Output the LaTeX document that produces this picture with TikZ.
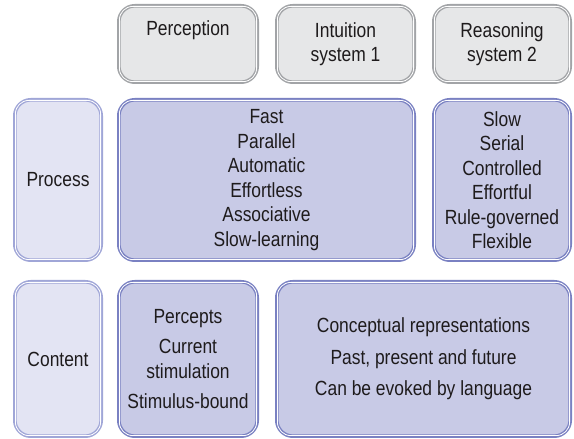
\documentclass[tikz,border=0pt]{standalone}
\usepackage{fontspec}
\setmainfont{Liberation Sans}[FakeStretch=0.85]
\definecolor{txt}{HTML}{1E1B1C}
\definecolor{greyfill}{HTML}{E6E7E8}
\definecolor{greyline}{HTML}{A2A4A7}
\definecolor{labfill}{HTML}{E3E4F3}
\definecolor{labline}{HTML}{A0A6D7}
\definecolor{mainfill}{HTML}{C8CAE6}
\definecolor{mainline}{HTML}{7A81C2}
\begin{document}
\begin{tikzpicture}[x=1pt,y=1pt,
  panel/.style={rectangle, rounded corners=16pt, line width=3.6pt, inner sep=0pt,
    align=center, text=txt, font=\fontsize{20.5}{24.5}\selectfont},
  greybox/.style={panel, fill=greyfill, draw=greyline},
  labelbox/.style={panel, fill=labfill, draw=labline},
  mainbox/.style={panel, fill=mainfill, draw=mainline},
  innerline/.style={draw=white, line width=0.8pt, rounded corners=13.5pt}]
\useasboundingbox (0,0) rectangle (574,439);

% column headings
\node[greybox, minimum width=138.4pt, minimum height=76.4pt] (perc) at (188,395)
  {Perception\\\strut};
\node[greybox, minimum width=137.4pt, minimum height=76.4pt] (sysone) at (345.5,395)
  {Intuition\\system 1};
\node[greybox, minimum width=136.4pt, minimum height=76.4pt] (systwo) at (502,395)
  {Reasoning\\system 2};

% process row
\node[labelbox, minimum width=86.4pt, minimum height=160.4pt] (proc) at (58,259)
  {Process};
\node[mainbox, minimum width=295.4pt, minimum height=160.4pt] (procone) at (266.5,259)
  {Fast\\Parallel\\Automatic\\Effortless\\Associative\\Slow-learning};
\node[mainbox, minimum width=136.4pt, minimum height=160.4pt] (proctwo) at (502,259)
  {Slow\\Serial\\Controlled\\Effortful\\Rule-governed\\Flexible};

% content row
\node[labelbox, minimum width=86.4pt, minimum height=154.4pt] (cont) at (58,80)
  {Content};
\node[mainbox, minimum width=138.4pt, minimum height=154.4pt] (contperc) at (188,80)
  {Percepts\\[6pt]Current\\stimulation\\[6pt]Stimulus-bound};
\node[mainbox, minimum width=293.4pt, minimum height=154.4pt] (contcon) at (423.5,80)
  {Conceptual representations\\[7pt]Past, present and future\\[7pt]Can be evoked by language};

% thin white rim just inside every border
\foreach \n in {perc,sysone,systwo,proc,procone,proctwo,cont,contperc,contcon}
  \draw[innerline] ([shift={(2.4pt,2.4pt)}]\n.south west) rectangle ([shift={(-2.4pt,-2.4pt)}]\n.north east);
\end{tikzpicture}
\end{document}
